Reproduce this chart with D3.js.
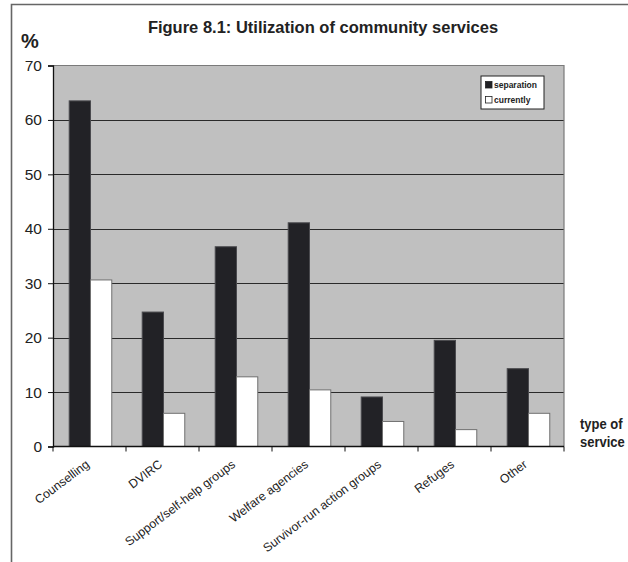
<!DOCTYPE html>
<html>
<head>
<meta charset="utf-8">
<script src="https://cdn.jsdelivr.net/npm/d3@7"></script>
<style>
  html, body { margin: 0; padding: 0; background: #fff; }
  svg { display: block; font-family: "Liberation Sans", Arial, Helvetica, sans-serif; }
</style>
</head>
<body>
<svg id="chart" width="628" height="562"></svg>
<script>
// Utilization of community services, % of respondents
const categories = ["Counselling", "DVIRC", "Support/self-help groups", "Welfare agencies",
                    "Survivor-run action groups", "Refuges", "Other"];
const seriesNames = ["separation", "currently"];
const separation = [63.5, 24.7, 36.7, 41.1, 9.1, 19.5, 14.3];
const currently  = [30.6, 6.1, 12.8, 10.4, 4.6, 3.1, 6.1];
const yTicks = [0, 10, 20, 30, 40, 50, 60, 70];

const rows = categories.map((c, i) => ({ category: c, values: [separation[i], currently[i]] }));

const svg = d3.select("#chart");
const W = 628, H = 562;
const plot = { left: 53, right: 564, top: 65.5, bottom: 446.5 };

// outer frame (open at right and bottom edges of the page)
svg.append("path")
  .attr("d", `M11.5,${H} L11.5,4.5 L${W},4.5`)
  .attr("fill", "none").attr("stroke", "#666").attr("stroke-width", 1.6);

const x = d3.scaleBand().domain(categories).range([plot.left, plot.right]).padding(0);
const bw = x.bandwidth();
const x1 = d3.scaleBand().domain(seriesNames).range([bw * 0.222, bw * 0.805]).padding(0);
const y = d3.scaleLinear().domain([0, 70]).range([plot.bottom, plot.top]);
const fills = { separation: "#222226", currently: "#ffffff" };
const strokes = { separation: "#4a4a4e", currently: "#707070" };

// plot background
svg.append("rect")
  .attr("x", plot.left).attr("y", plot.top)
  .attr("width", plot.right - plot.left).attr("height", plot.bottom - plot.top)
  .attr("fill", "#c0c0c0");

// gridlines
svg.append("g").selectAll("line")
  .data(yTicks.filter(t => t > 0 && t < 70))
  .join("line")
  .attr("x1", plot.left).attr("x2", plot.right)
  .attr("y1", d => Math.round(y(d)) + 0.5).attr("y2", d => Math.round(y(d)) + 0.5)
  .attr("stroke", "#2a2a2a").attr("stroke-width", 1.1);

// top and right border of the plot area
svg.append("path")
  .attr("d", `M${plot.left},${plot.top} L${plot.right},${plot.top} L${plot.right},${plot.bottom}`)
  .attr("fill", "none").attr("stroke", "#7a7a7a").attr("stroke-width", 1.2);

// bars
const groups = svg.append("g").selectAll("g")
  .data(rows).join("g")
  .attr("transform", d => `translate(${x(d.category)},0)`);

groups.selectAll("rect")
  .data(d => d.values.map((v, j) => ({ key: seriesNames[j], value: v })))
  .join("rect")
  .attr("x", d => x1(d.key))
  .attr("y", d => y(d.value))
  .attr("width", x1.bandwidth())
  .attr("height", d => y(0) - y(d.value))
  .attr("fill", d => fills[d.key])
  .attr("stroke", d => strokes[d.key])
  .attr("stroke-width", 1);

// y axis
const yAxis = d3.axisLeft(y).tickValues(yTicks).tickSize(5).tickPadding(6).tickFormat(d3.format("d"));
const gy = svg.append("g").attr("transform", `translate(${plot.left},0)`).call(yAxis);
gy.select(".domain").attr("stroke", "#111").attr("stroke-width", 1.3);
gy.selectAll(".tick line").attr("stroke", "#111");
gy.selectAll(".tick text").attr("font-size", 15.5).attr("fill", "#222")
  .attr("font-family", "'Liberation Sans', Arial, sans-serif");

// x axis: ticks at category boundaries
const gx = svg.append("g").attr("transform", `translate(0,${plot.bottom})`);
gx.append("line").attr("x1", plot.left).attr("x2", plot.right)
  .attr("y1", 0).attr("y2", 0).attr("stroke", "#111").attr("stroke-width", 1.3);
const bounds = categories.map(c => x(c)).concat([plot.right]);
gx.selectAll("line.tk").data(bounds).join("line").attr("class", "tk")
  .attr("x1", d => d).attr("x2", d => d).attr("y1", 0).attr("y2", 5)
  .attr("stroke", "#111");

// rotated category labels
gx.selectAll("text.cat").data(categories).join("text").attr("class", "cat")
  .attr("transform", d => `translate(${x(d) + bw / 2 - 2},${16}) rotate(-37)`)
  .attr("text-anchor", "end")
  .attr("dy", "0.35em")
  .attr("font-size", 12.3)
  .attr("fill", "#222")
  .text(d => d);

// title and axis captions
svg.append("text").attr("x", 323).attr("y", 33)
  .attr("text-anchor", "middle").attr("font-size", 16.5).attr("font-weight", "bold")
  .attr("fill", "#222").text("Figure 8.1: Utilization of community services");
svg.append("text").attr("x", 21).attr("y", 48)
  .attr("font-size", 20).attr("font-weight", "bold").attr("fill", "#222").text("%");
// axis caption: narrow bold face, stretched vertically to the caption's height
const cap = svg.append("text").attr("transform", "translate(580,429) scale(1,1.18)")
  .attr("font-size", 13).attr("font-weight", "bold").attr("fill", "#222");
cap.append("tspan").attr("x", 0).attr("y", 0).text("type of");
cap.append("tspan").attr("x", 0).attr("y", 15.3).text("service");

// legend
const lg = svg.append("g").attr("transform", "translate(481,76)");
lg.append("rect").attr("width", 63).attr("height", 33)
  .attr("fill", "#fff").attr("stroke", "#222").attr("stroke-width", 1);
seriesNames.forEach((s, i) => {
  const row = lg.append("g").attr("transform", `translate(4,${5 + i * 15})`);
  row.append("rect").attr("x", 0.5).attr("y", 0.5).attr("width", 6.5).attr("height", 6.5)
    .attr("fill", fills[s]).attr("stroke", "#222").attr("stroke-width", 0.8);
  row.append("text").attr("x", 9).attr("y", 7).attr("font-size", 8.5)
    .attr("font-weight", "bold").attr("fill", "#222").text(s);
});
</script>
</body>
</html>
